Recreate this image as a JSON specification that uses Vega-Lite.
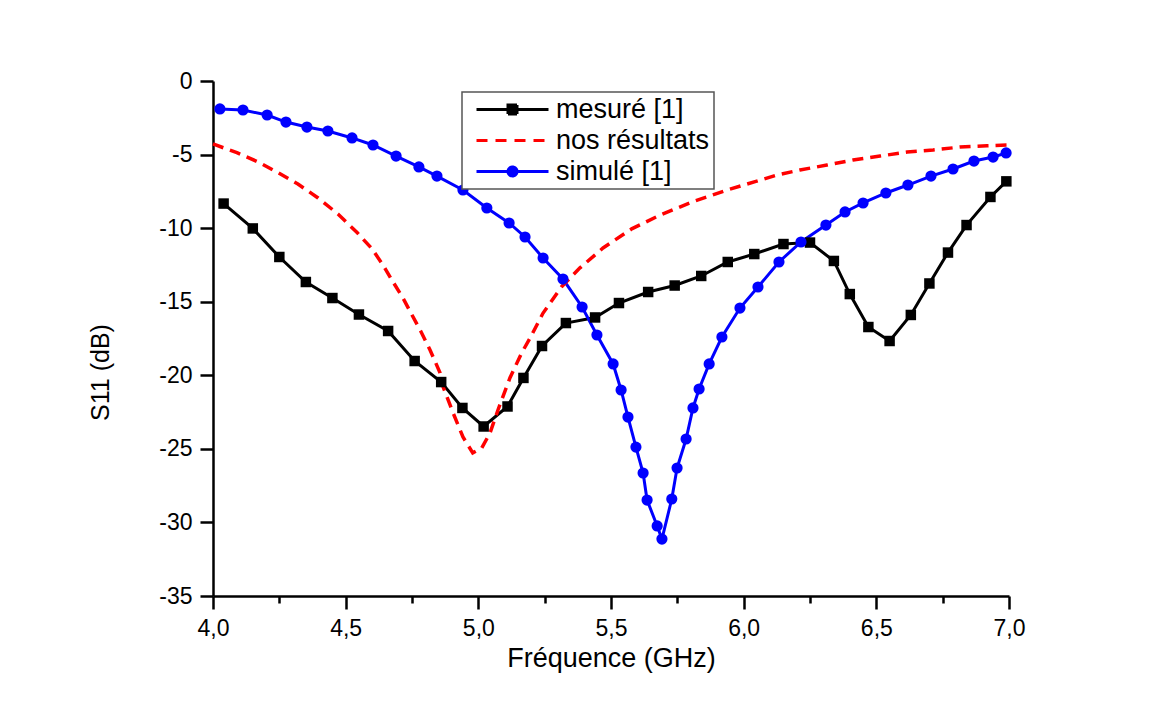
{
  "$schema": "https://vega.github.io/schema/vega-lite/v6.json",
  "width": 796,
  "height": 515,
  "autosize": {"type": "none"},
  "padding": {"left": 213, "top": 81, "right": 160, "bottom": 113},
  "background": "white",
  "config": {"view": {"stroke": null}, "font": "Liberation Sans"},
  "data": {"values": [
    {"series": "mesuré [1]", "f": 4.04, "s11": -8.33},
    {"series": "mesuré [1]", "f": 4.15, "s11": -10.02},
    {"series": "mesuré [1]", "f": 4.25, "s11": -11.96},
    {"series": "mesuré [1]", "f": 4.35, "s11": -13.66},
    {"series": "mesuré [1]", "f": 4.45, "s11": -14.75},
    {"series": "mesuré [1]", "f": 4.55, "s11": -15.87},
    {"series": "mesuré [1]", "f": 4.66, "s11": -16.99},
    {"series": "mesuré [1]", "f": 4.76, "s11": -19.03},
    {"series": "mesuré [1]", "f": 4.86, "s11": -20.46},
    {"series": "mesuré [1]", "f": 4.94, "s11": -22.22},
    {"series": "mesuré [1]", "f": 5.02, "s11": -23.48},
    {"series": "mesuré [1]", "f": 5.11, "s11": -22.12},
    {"series": "mesuré [1]", "f": 5.17, "s11": -20.18},
    {"series": "mesuré [1]", "f": 5.24, "s11": -18.01},
    {"series": "mesuré [1]", "f": 5.33, "s11": -16.45},
    {"series": "mesuré [1]", "f": 5.44, "s11": -16.07},
    {"series": "mesuré [1]", "f": 5.53, "s11": -15.09},
    {"series": "mesuré [1]", "f": 5.64, "s11": -14.34},
    {"series": "mesuré [1]", "f": 5.74, "s11": -13.9},
    {"series": "mesuré [1]", "f": 5.84, "s11": -13.25},
    {"series": "mesuré [1]", "f": 5.94, "s11": -12.3},
    {"series": "mesuré [1]", "f": 6.04, "s11": -11.76},
    {"series": "mesuré [1]", "f": 6.15, "s11": -11.08},
    {"series": "mesuré [1]", "f": 6.25, "s11": -10.98},
    {"series": "mesuré [1]", "f": 6.34, "s11": -12.23},
    {"series": "mesuré [1]", "f": 6.4, "s11": -14.48},
    {"series": "mesuré [1]", "f": 6.47, "s11": -16.72},
    {"series": "mesuré [1]", "f": 6.55, "s11": -17.67},
    {"series": "mesuré [1]", "f": 6.63, "s11": -15.9},
    {"series": "mesuré [1]", "f": 6.7, "s11": -13.76},
    {"series": "mesuré [1]", "f": 6.77, "s11": -11.66},
    {"series": "mesuré [1]", "f": 6.84, "s11": -9.79},
    {"series": "mesuré [1]", "f": 6.93, "s11": -7.88},
    {"series": "mesuré [1]", "f": 6.99, "s11": -6.82},
    {"series": "nos résultats", "f": 4.0, "s11": -4.28},
    {"series": "nos résultats", "f": 4.09, "s11": -4.87},
    {"series": "nos résultats", "f": 4.17, "s11": -5.5},
    {"series": "nos résultats", "f": 4.245, "s11": -6.23},
    {"series": "nos résultats", "f": 4.32, "s11": -7.0},
    {"series": "nos résultats", "f": 4.396, "s11": -7.95},
    {"series": "nos résultats", "f": 4.471, "s11": -9.04},
    {"series": "nos résultats", "f": 4.543, "s11": -10.3},
    {"series": "nos résultats", "f": 4.599, "s11": -11.4},
    {"series": "nos résultats", "f": 4.641, "s11": -12.51},
    {"series": "nos résultats", "f": 4.678, "s11": -13.64},
    {"series": "nos résultats", "f": 4.716, "s11": -14.75},
    {"series": "nos résultats", "f": 4.75, "s11": -15.9},
    {"series": "nos résultats", "f": 4.784, "s11": -17.04},
    {"series": "nos résultats", "f": 4.818, "s11": -18.28},
    {"series": "nos résultats", "f": 4.856, "s11": -19.84},
    {"series": "nos résultats", "f": 4.867, "s11": -20.78},
    {"series": "nos résultats", "f": 4.905, "s11": -22.56},
    {"series": "nos résultats", "f": 4.942, "s11": -24.19},
    {"series": "nos résultats", "f": 4.979, "s11": -25.28},
    {"series": "nos résultats", "f": 5.013, "s11": -24.94},
    {"series": "nos résultats", "f": 5.044, "s11": -23.92},
    {"series": "nos résultats", "f": 5.074, "s11": -22.36},
    {"series": "nos résultats", "f": 5.119, "s11": -20.18},
    {"series": "nos résultats", "f": 5.163, "s11": -18.49},
    {"series": "nos résultats", "f": 5.195, "s11": -17.47},
    {"series": "nos résultats", "f": 5.244, "s11": -15.77},
    {"series": "nos résultats", "f": 5.314, "s11": -13.98},
    {"series": "nos résultats", "f": 5.383, "s11": -12.7},
    {"series": "nos résultats", "f": 5.47, "s11": -11.35},
    {"series": "nos résultats", "f": 5.578, "s11": -10.05},
    {"series": "nos résultats", "f": 5.685, "s11": -9.11},
    {"series": "nos résultats", "f": 5.809, "s11": -8.2},
    {"series": "nos résultats", "f": 5.937, "s11": -7.41},
    {"series": "nos résultats", "f": 6.043, "s11": -6.84},
    {"series": "nos résultats", "f": 6.126, "s11": -6.39},
    {"series": "nos résultats", "f": 6.212, "s11": -6.05},
    {"series": "nos résultats", "f": 6.314, "s11": -5.71},
    {"series": "nos résultats", "f": 6.412, "s11": -5.37},
    {"series": "nos résultats", "f": 6.514, "s11": -5.1},
    {"series": "nos résultats", "f": 6.616, "s11": -4.83},
    {"series": "nos résultats", "f": 6.714, "s11": -4.69},
    {"series": "nos résultats", "f": 6.815, "s11": -4.49},
    {"series": "nos résultats", "f": 6.917, "s11": -4.4},
    {"series": "nos résultats", "f": 7.0, "s11": -4.35},
    {"series": "simulé [1]", "f": 4.026, "s11": -1.9},
    {"series": "simulé [1]", "f": 4.113, "s11": -1.97},
    {"series": "simulé [1]", "f": 4.204, "s11": -2.31},
    {"series": "simulé [1]", "f": 4.275, "s11": -2.79},
    {"series": "simulé [1]", "f": 4.354, "s11": -3.13},
    {"series": "simulé [1]", "f": 4.433, "s11": -3.4},
    {"series": "simulé [1]", "f": 4.524, "s11": -3.87},
    {"series": "simulé [1]", "f": 4.603, "s11": -4.35},
    {"series": "simulé [1]", "f": 4.69, "s11": -5.1},
    {"series": "simulé [1]", "f": 4.776, "s11": -5.84},
    {"series": "simulé [1]", "f": 4.844, "s11": -6.46},
    {"series": "simulé [1]", "f": 4.942, "s11": -7.41},
    {"series": "simulé [1]", "f": 5.032, "s11": -8.63},
    {"series": "simulé [1]", "f": 5.116, "s11": -9.65},
    {"series": "simulé [1]", "f": 5.176, "s11": -10.6},
    {"series": "simulé [1]", "f": 5.244, "s11": -12.03},
    {"series": "simulé [1]", "f": 5.319, "s11": -13.46},
    {"series": "simulé [1]", "f": 5.391, "s11": -15.36},
    {"series": "simulé [1]", "f": 5.447, "s11": -17.26},
    {"series": "simulé [1]", "f": 5.508, "s11": -19.23},
    {"series": "simulé [1]", "f": 5.538, "s11": -21.0},
    {"series": "simulé [1]", "f": 5.564, "s11": -22.84},
    {"series": "simulé [1]", "f": 5.594, "s11": -24.88},
    {"series": "simulé [1]", "f": 5.621, "s11": -26.64},
    {"series": "simulé [1]", "f": 5.636, "s11": -28.48},
    {"series": "simulé [1]", "f": 5.674, "s11": -30.24},
    {"series": "simulé [1]", "f": 5.692, "s11": -31.13},
    {"series": "simulé [1]", "f": 5.729, "s11": -28.41},
    {"series": "simulé [1]", "f": 5.749, "s11": -26.3},
    {"series": "simulé [1]", "f": 5.783, "s11": -24.33},
    {"series": "simulé [1]", "f": 5.809, "s11": -22.22},
    {"series": "simulé [1]", "f": 5.832, "s11": -20.93},
    {"series": "simulé [1]", "f": 5.87, "s11": -19.23},
    {"series": "simulé [1]", "f": 5.918, "s11": -17.4},
    {"series": "simulé [1]", "f": 5.986, "s11": -15.43},
    {"series": "simulé [1]", "f": 6.054, "s11": -14.0},
    {"series": "simulé [1]", "f": 6.133, "s11": -12.3},
    {"series": "simulé [1]", "f": 6.216, "s11": -10.94},
    {"series": "simulé [1]", "f": 6.31, "s11": -9.79},
    {"series": "simulé [1]", "f": 6.382, "s11": -8.9},
    {"series": "simulé [1]", "f": 6.45, "s11": -8.29},
    {"series": "simulé [1]", "f": 6.536, "s11": -7.61},
    {"series": "simulé [1]", "f": 6.619, "s11": -7.07},
    {"series": "simulé [1]", "f": 6.706, "s11": -6.46},
    {"series": "simulé [1]", "f": 6.789, "s11": -5.98},
    {"series": "simulé [1]", "f": 6.868, "s11": -5.44},
    {"series": "simulé [1]", "f": 6.94, "s11": -5.17},
    {"series": "simulé [1]", "f": 6.989, "s11": -4.89}
  ]},
  "layer": [
    {
      "transform": [{"filter": "datum.series !== 'nos résultats'"}],
      "mark": {"type": "line", "strokeWidth": 3},
      "encoding": {
        "x": {
          "field": "f", "type": "quantitative",
          "scale": {"domain": [4, 7], "nice": false, "zero": false},
          "axis": {
            "title": "Fréquence (GHz)",
            "values": [4, 4.25, 4.5, 4.75, 5, 5.25, 5.5, 5.75, 6, 6.25, 6.5, 6.75, 7],
            "labelExpr": "datum.value % 0.5 === 0 ? replace(format(datum.value, '.1f'), '.', ',') : ''",
            "tickSize": {"condition": {"test": "datum.value % 0.5 !== 0", "value": 7}, "value": 13},
            "grid": false,
            "domainColor": "black", "domainWidth": 2.5,
            "tickColor": "black", "tickWidth": 2.5,
            "labelFont": "Liberation Sans", "labelFontSize": 23, "labelColor": "black",
            "labelPadding": 8, "labelOverlap": false, "labelFlush": false,
            "titleFont": "Liberation Sans", "titleFontSize": 27, "titleFontWeight": "normal",
            "titleColor": "black", "titlePadding": 5
          }
        },
        "y": {
          "field": "s11", "type": "quantitative",
          "scale": {"domain": [-35, 0], "nice": false, "zero": false},
          "axis": {
            "title": "S11 (dB)",
            "values": [0, -2.5, -5, -7.5, -10, -12.5, -15, -17.5, -20, -22.5, -25, -27.5, -30, -32.5, -35],
            "labelExpr": "datum.value % 5 === 0 ? '' + datum.value : ''",
            "tickSize": {"condition": {"test": "datum.value % 5 !== 0", "value": 7}, "value": 13},
            "grid": false,
            "domainColor": "black", "domainWidth": 2.5,
            "tickColor": "black", "tickWidth": 2.5,
            "labelFont": "Liberation Sans", "labelFontSize": 23, "labelColor": "black",
            "labelPadding": 8, "labelOverlap": false, "labelFlush": false,
            "titleFont": "Liberation Sans", "titleFontSize": 25, "titleFontWeight": "normal",
            "titleColor": "black", "titleAngle": -90, "titleAlign": "center", "titleBaseline": "middle",
            "titleX": -113, "titleY": 291
          }
        },
        "color": {
          "field": "series", "type": "nominal",
          "scale": {"domain": ["mesuré [1]", "nos résultats", "simulé [1]"], "range": ["#000000", "#ff0000", "#0000ff"]},
          "legend": {
            "orient": "none", "legendX": 249, "legendY": 11,
            "title": null, "direction": "vertical",
            "fillColor": "white", "strokeColor": "#555555",
            "padding": 4, "rowPadding": 3,
            "labelFont": "Liberation Sans", "labelFontSize": 27, "labelColor": "black",
            "symbolSize": 400, "symbolOffset": 33, "labelOffset": 30, "symbolStrokeWidth": 3,
            "encode": {
              "legend": {"update": {"strokeWidth": {"value": 1.5}}},
              "symbols": {"update": {
                "shape": {"signal": "datum.value === 'mesuré [1]' ? 'M-3.6,0H3.6M-0.45,-0.45H0.45V0.45H-0.45Z' : datum.value === 'nos résultats' ? 'M-3.6,0H-2.5M-1.7,0H-0.6M0.2,0H1.3M2.1,0H3.2' : 'M-3.6,0H3.6M-0.45,0A0.45,0.45 0 1,0 0.45,0A0.45,0.45 0 1,0 -0.45,0Z'"},
                "fill": {"signal": "datum.value === 'mesuré [1]' ? '#000000' : datum.value === 'nos résultats' ? '#ff0000' : '#0000ff'"},
                "stroke": {"signal": "datum.value === 'mesuré [1]' ? '#000000' : datum.value === 'nos résultats' ? '#ff0000' : '#0000ff'"},
                "strokeDash": {"value": [1, 0]},
                "strokeWidth": {"value": 3},
                "opacity": {"value": 1}
              }}
            }
          }
        }
      }
    },
    {
      "transform": [{"filter": "datum.series === 'nos résultats'"}],
      "mark": {"type": "line", "strokeWidth": 3.5, "strokeDash": [11, 7]},
      "encoding": {
        "x": {"field": "f", "type": "quantitative"},
        "y": {"field": "s11", "type": "quantitative"},
        "color": {"field": "series", "type": "nominal"}
      }
    },
    {
      "transform": [{"filter": "datum.series === 'mesuré [1]'"}],
      "mark": {"type": "point", "shape": "square", "filled": true, "size": 110, "color": "#000000", "opacity": 1},
      "encoding": {
        "x": {"field": "f", "type": "quantitative"},
        "y": {"field": "s11", "type": "quantitative"}
      }
    },
    {
      "transform": [{"filter": "datum.series === 'simulé [1]'"}],
      "mark": {"type": "point", "shape": "circle", "filled": true, "size": 125, "color": "#0000ff", "opacity": 1},
      "encoding": {
        "x": {"field": "f", "type": "quantitative"},
        "y": {"field": "s11", "type": "quantitative"}
      }
    }
  ]
}
